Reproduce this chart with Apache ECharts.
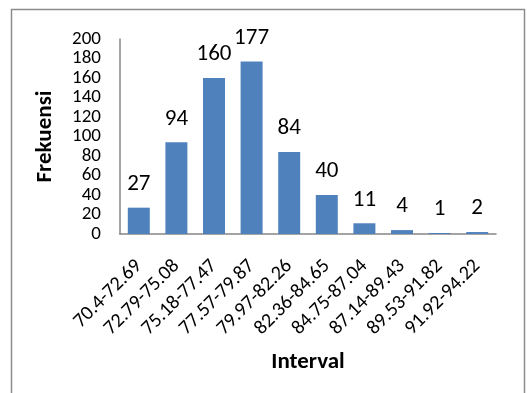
<!DOCTYPE html>
<html><head><meta charset="utf-8">
<script src="https://cdn.jsdelivr.net/npm/echarts@6/dist/echarts.min.js"></script>
<style>html,body{margin:0;padding:0;background:#fff}#c{width:527px;height:393px}</style>
</head><body><div id="c"></div>
<script>
const categories = ["70.4-72.69","72.79-75.08","75.18-77.47","77.57-79.87","79.97-82.26","82.36-84.65","84.75-87.04","87.14-89.43","89.53-91.82","91.92-94.22"];
const frekuensi = [27, 94, 160, 177, 84, 40, 11, 4, 1, 2];
const yTicks = {min: 0, max: 200, interval: 20};
const FONT = 'Carlito, "Open Sans", sans-serif';
const chart = echarts.init(document.getElementById('c'), null, {renderer: 'canvas'});
chart.setOption({
  animation: false,
  backgroundColor: '#fff',
  graphic: [{type: 'rect', shape: {x: 11.5, y: 9.5, width: 513, height: 400}, style: {fill: 'none', stroke: '#8c8c8c', lineWidth: 1.5}}],
  grid: {left: 120, right: 31, top: 39, bottom: 159},
  xAxis: {
    type: 'category', data: categories,
    axisLine: {lineStyle: {color: '#868686', width: 1.5}},
    axisTick: {show: false},
    axisLabel: {rotate: 45, interval: 0, fontFamily: FONT, fontSize: 20, color: '#000', margin: 29},
    name: 'Interval', nameLocation: 'middle', nameGap: 117,
    nameTextStyle: {fontFamily: FONT, fontSize: 23, fontWeight: 'bold', color: '#000'}
  },
  yAxis: {
    type: 'value', min: yTicks.min, max: yTicks.max, interval: yTicks.interval,
    splitLine: {show: false},
    axisLine: {show: true, lineStyle: {color: '#868686', width: 1.5}},
    axisTick: {show: false},
    axisLabel: {fontFamily: FONT, fontSize: 19, color: '#000', margin: 19},
    name: 'Frekuensi', nameLocation: 'middle', nameGap: 63, nameRotate: 90,
    nameTextStyle: {fontFamily: FONT, fontSize: 23, fontWeight: 'bold', color: '#000'}
  },
  series: [{
    type: 'bar', data: frekuensi, barWidth: 22,
    itemStyle: {color: '#4F81BD'},
    label: {show: true, position: 'top', distance: 12, fontFamily: FONT, fontSize: 23, color: '#000'}
  }]
});
</script></body></html>
